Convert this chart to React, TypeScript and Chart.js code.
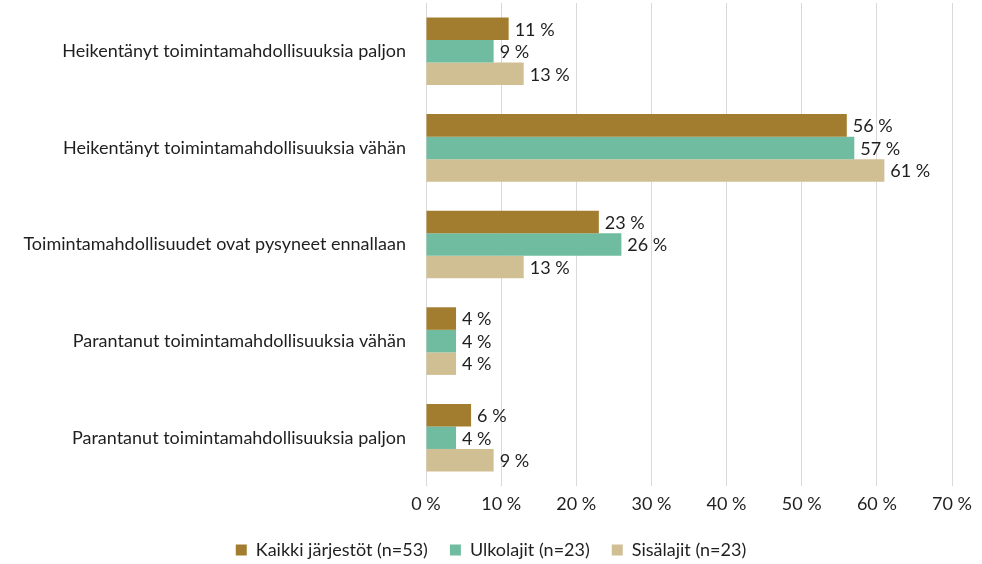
import React, { useEffect, useRef } from "react";
import { Chart, registerables } from "chart.js";

Chart.register(...registerables);

const categories = [
  "Heikentänyt toimintamahdollisuuksia paljon",
  "Heikentänyt toimintamahdollisuuksia vähän",
  "Toimintamahdollisuudet ovat pysyneet ennallaan",
  "Parantanut toimintamahdollisuuksia vähän",
  "Parantanut toimintamahdollisuuksia paljon",
];
const seriesNames = ["Kaikki järjestöt (n=53)", "Ulkolajit (n=23)", "Sisälajit (n=23)"];
const kaikki = [11, 56, 23, 4, 6];
const ulkolajit = [9, 57, 26, 4, 4];
const sisalajit = [13, 61, 13, 4, 9];
const xTicks = [0, 10, 20, 30, 40, 50, 60, 70];
const colors = ["#A37D2F", "#70BCA0", "#D1BF94"];

const FONT = "Lato, 'Open Sans', sans-serif";
const FS = 18;

const labelPlugin = {
  id: "barLabels",
  afterDatasetsDraw(chart: any) {
    const ctx = chart.ctx;
    ctx.save();
    ctx.font = `${FS}px ${FONT}`;
    ctx.fillStyle = "#1F1F1F";
    ctx.textAlign = "left";
    ctx.textBaseline = "middle";
    chart.data.datasets.forEach((ds: any, di: number) => {
      const meta = chart.getDatasetMeta(di);
      meta.data.forEach((bar: any, i: number) => {
        ctx.fillText(`${Math.round(ds.data[i])} %`, bar.x + 6, bar.y + 1);
      });
    });
    ctx.restore();
  },
};

export default function App() {
  const ref = useRef<HTMLCanvasElement>(null);
  useEffect(() => {
    document.body.style.margin = "0";
    const chart = new Chart(ref.current!, {
      type: "bar",
      data: {
        labels: categories,
        datasets: [kaikki, ulkolajit, sisalajit].map((d, i) => ({
          label: seriesNames[i],
          data: d,
          backgroundColor: colors[i],
          categoryPercentage: 0.7,
          barPercentage: 1.0,
        })),
      },
      options: {
        indexAxis: "y",
        animation: false,
        responsive: false,
        maintainAspectRatio: false,
        layout: { padding: { top: 3, right: 0, bottom: -5, left: 0 } },
        scales: {
          x: {
            min: 0,
            max: 70,
            afterBuildTicks: (s: any) => {
              s.ticks = xTicks.map((v) => ({ value: v }));
            },
            afterFit: (s: any) => {
              s.height = 33;
              s.paddingLeft = 0;
              s.paddingRight = 0;
            },
            ticks: {
              callback: (v: any) => `${v} %`,
              font: { size: FS, family: FONT },
              color: "#1F1F1F",
              padding: 7,
              maxRotation: 0,
            },
            grid: { color: "#D9D9D9", drawTicks: false },
            border: { display: false },
          },
          y: {
            afterFit: (s: any) => {
              s.width = 426;
              s.paddingTop = 0;
              s.paddingBottom = 0;
            },
            ticks: {
              font: { size: FS, family: FONT },
              color: "#1F1F1F",
              padding: 20,
            },
            grid: { display: false, drawTicks: false },
            border: { display: false },
          },
          yRight: {
            type: "category",
            axis: "y",
            position: "right",
            ticks: { display: false },
            grid: { display: false, drawTicks: false },
            border: { display: false },
            afterFit: (s: any) => {
              s.width = 30;
              s.paddingTop = 0;
              s.paddingBottom = 0;
            },
          },
        },
        plugins: {
          legend: {
            position: "bottom",
            labels: {
              boxWidth: 11,
              boxHeight: 11,
              font: { size: FS, family: FONT },
              color: "#1F1F1F",
              padding: 22,
            },
          },
          tooltip: { enabled: false },
        },
      },
      plugins: [labelPlugin],
    });
    return () => chart.destroy();
  }, []);
  return (
    <div style={{ width: 982, height: 564 }}>
      <canvas ref={ref} width={982} height={564} style={{ display: "block" }} />
    </div>
  );
}
